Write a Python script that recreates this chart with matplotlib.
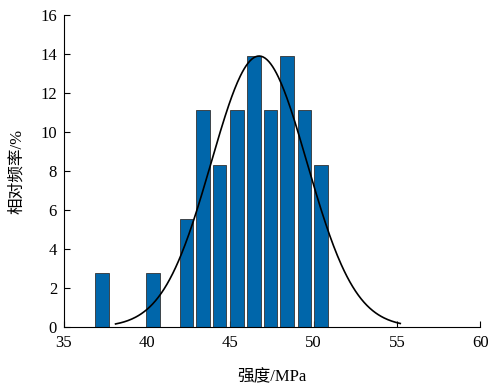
import matplotlib
matplotlib.use("Agg")
import matplotlib.pyplot as plt
import numpy as np

# histogram data (bin centre in MPa, relative frequency in %)
centers = [37.3, 40.35, 42.35, 43.35, 44.35, 45.4, 46.4, 47.4, 48.4, 49.45, 50.45]
freq = [2.78, 2.78, 5.56, 11.11, 8.33, 11.11, 13.89, 11.11, 13.89, 11.11, 8.33]

# fitted normal curve parameters
mu = 46.72
sigma = 2.88
peak = 13.9
curve_range = (38.1, 55.2)

xticks = [35, 40, 45, 50, 55, 60]
yticks = [0, 2, 4, 6, 8, 10, 12, 14, 16]

plt.rcParams["font.family"] = ["Liberation Serif", "Noto Sans CJK SC"]

fig = plt.figure(figsize=(4.92, 3.87), dpi=100)
ax = fig.add_axes([0.130, 0.155, 0.846, 0.806])

ax.bar(centers, freq, width=0.82, color="#0066AA", edgecolor="#333333",
       linewidth=0.6, zorder=2)

xs = np.linspace(curve_range[0], curve_range[1], 300)
ys = peak * np.exp(-(xs - mu) ** 2 / (2 * sigma ** 2))
ax.plot(xs, ys, color="black", lw=1.2, zorder=3)

ax.set_xlim(35, 60)
ax.set_ylim(0, 16)
ax.set_xticks(xticks)
ax.set_yticks(yticks)
ax.tick_params(direction="in", length=4, width=0.8, labelsize=12)
ax.tick_params(axis="x", pad=6)
ax.tick_params(axis="y", pad=5)
for lbl in ax.get_xticklabels() + ax.get_yticklabels():
    lbl.set_family(["Liberation Serif"])
for s in ["top", "right"]:
    ax.spines[s].set_visible(False)
for s in ["left", "bottom"]:
    ax.spines[s].set_linewidth(0.8)

ax.set_xlabel("强度/MPa", fontsize=12, family=["Liberation Serif", "Noto Sans CJK SC"],
              labelpad=13)
ax.set_ylabel("相对频率/%", fontsize=12, family=["Liberation Serif", "Noto Sans CJK SC"],
              labelpad=11)

fig.savefig("out.png", dpi=100)
